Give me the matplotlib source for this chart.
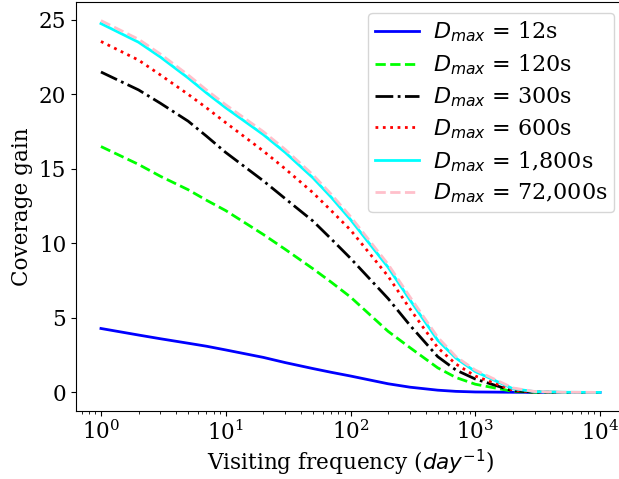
import matplotlib
matplotlib.use('Agg')
import matplotlib.pyplot as plt

plt.rcParams['font.family'] = 'DejaVu Serif'
plt.rcParams['mathtext.fontset'] = 'dejavusans'
plt.rcParams['font.size'] = 15.5

# visiting frequency (day^-1)
freq = [1, 2, 3, 5, 7, 10, 20, 30, 50, 70, 100, 200, 300, 500, 700,
        1000, 2000, 3000, 5000, 10000]

# coverage gain per D_max
gain_12 = [4.29, 3.85, 3.6, 3.3, 3.1, 2.85, 2.35, 2.0, 1.6, 1.35, 1.1,
           0.58, 0.35, 0.15, 0.07, 0.03, 0.01, 0.0, 0.0, 0.0]
gain_120 = [16.5, 15.3, 14.5, 13.6, 12.9, 12.2, 10.6, 9.6, 8.3, 7.4, 6.4,
            4.1, 3.0, 1.65, 1.0, 0.55, 0.07, 0.01, 0.0, 0.0]
gain_300 = [21.5, 20.3, 19.4, 18.2, 17.2, 16.1, 14.2, 13.0, 11.5, 10.3, 9.0,
            6.3, 4.5, 2.4, 1.5, 0.9, 0.1, 0.02, 0.0, 0.0]
gain_600 = [23.55, 22.3, 21.3, 20.0, 19.1, 18.1, 16.2, 15.0, 13.4, 12.2, 10.9,
            7.8, 5.6, 3.0, 1.9, 1.1, 0.15, 0.03, 0.0, 0.0]
gain_1800 = [24.75, 23.5, 22.5, 21.1, 20.1, 19.1, 17.3, 16.1, 14.4, 13.1, 11.6,
             8.4, 6.2, 3.5, 2.3, 1.4, 0.25, 0.05, 0.01, 0.0]
gain_72000 = [24.95, 23.7, 22.7, 21.3, 20.3, 19.3, 17.5, 16.3, 14.6, 13.3, 11.8,
              8.6, 6.4, 3.7, 2.4, 1.5, 0.3, 0.06, 0.01, 0.0]

labels = ['12s', '120s', '300s', '600s', '1,800s', '72,000s']

fig = plt.figure(figsize=(6.19, 4.79), dpi=100)
ax = fig.add_axes([76 / 619, 68 / 479, 549 / 619, 409 / 479])

lw = 2
ax.plot(freq, gain_12, color='blue', linestyle='-', lw=lw, label=r'$D_{max}$ = ' + labels[0])
ax.plot(freq, gain_120, color='lime', linestyle='--', lw=lw, label=r'$D_{max}$ = ' + labels[1])
ax.plot(freq, gain_300, color='black', linestyle='-.', lw=lw, label=r'$D_{max}$ = ' + labels[2])
ax.plot(freq, gain_600, color='red', linestyle=':', lw=lw, label=r'$D_{max}$ = ' + labels[3])
ax.plot(freq, gain_1800, color='cyan', linestyle='-', lw=lw, label=r'$D_{max}$ = ' + labels[4])
ax.plot(freq, gain_72000, color='pink', linestyle='--', lw=lw, label=r'$D_{max}$ = ' + labels[5])

ax.set_xscale('log')
ax.set_xlabel(r'Visiting frequency ($day^{-1}$)', labelpad=2)
ax.set_ylabel('Coverage gain')
ax.set_yticks([0, 5, 10, 15, 20, 25])

ax.legend(loc='upper right', bbox_to_anchor=(614 / 619, 1 - 13 / 479),
          bbox_transform=fig.transFigure, borderaxespad=0, fontsize=16,
          labelspacing=0.37, borderpad=0.3, handletextpad=0.6)

fig.savefig('out.png', dpi=100)
